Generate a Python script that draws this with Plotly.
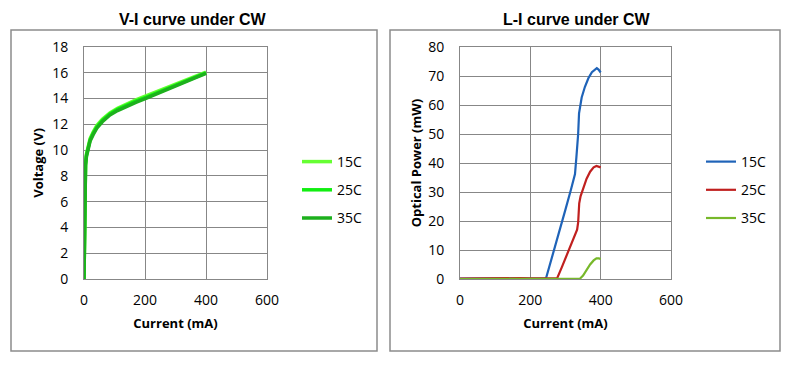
import plotly.graph_objects as go

# ---------------- data ----------------
vi_current = [0, 1, 2, 3, 5, 8, 12, 20, 30, 42, 60, 85, 110, 140, 170, 205, 240, 282, 320, 360, 400]
vi_15c = [0, 3.0, 6.5, 8.1, 9.0, 9.7, 10.2, 10.9, 11.4, 11.9, 12.4, 12.88, 13.25, 13.6, 13.9, 14.22, 14.54, 14.93, 15.29, 15.68, 16.05]
vi_25c = [0, 2.9, 6.4, 8.0, 8.9, 9.6, 10.1, 10.8, 11.3, 11.8, 12.3, 12.8, 13.16, 13.5, 13.8, 14.12, 14.45, 14.85, 15.22, 15.62, 16.0]
vi_35c = [0, 2.8, 6.3, 7.9, 8.8, 9.5, 10.0, 10.7, 11.2, 11.7, 12.2, 12.72, 13.07, 13.41, 13.71, 14.03, 14.36, 14.77, 15.15, 15.56, 15.96]

li_current_15c = [0, 50, 100, 150, 200, 240, 245, 260, 280, 300, 315, 327, 331, 334, 336, 338.5, 342, 346, 355, 365, 375, 383, 389, 394, 400]
li_15c = [0.1, 0.2, 0.2, 0.2, 0.1, 0.1, 0.4, 6.6, 15.3, 24.0, 30.6, 36.2, 42, 46, 50, 57.1, 59.8, 62.6, 66.2, 69.2, 71.3, 72.3, 72.7, 72.2, 71.2]
li_current_25c = [0, 50, 80, 100, 120, 150, 170, 200, 250, 276, 290, 305, 320, 333, 336, 339, 343, 351, 360, 370, 380, 388, 395, 400]
li_25c = [0.1, 0.2, 0.3, 0.4, 0.3, 0.4, 0.3, 0.2, 0.1, 0.2, 4.2, 8.8, 13.2, 17.0, 19.5, 26.1, 28.6, 31.8, 34.6, 37.0, 38.5, 39.0, 38.8, 38.5]
li_current_35c = [0, 100, 200, 300, 341, 350, 360, 370, 380, 388, 395, 400]
li_35c = [0, 0, 0, 0.1, 0.1, 1.2, 3.2, 5.0, 6.4, 7.1, 7.1, 6.9]

series_names = ["15C", "25C", "35C"]
vi_colors = ["#66FF33", "#11EE11", "#1DB01D"]
li_colors = ["#1F63B8", "#C0201F", "#77B82A"]

x_ticks = [0, 200, 400, 600]

W, H = 800, 365
OFF = 8  # page body margin


def px(x):
    return (x - OFF) / W


def py(y):
    return (H - (y - OFF)) / H


fig = go.Figure()

for name, ys, col in zip(series_names, [vi_15c, vi_25c, vi_35c], vi_colors):
    fig.add_trace(go.Scatter(x=vi_current, y=ys, mode="lines", name=name,
                             line=dict(color=col, width=3.5), xaxis="x", yaxis="y",
                             legend="legend", legendgroup="vi" + name))

for name, xs, ys, col in zip(series_names,
                             [li_current_15c, li_current_25c, li_current_35c],
                             [li_15c, li_25c, li_35c], li_colors):
    fig.add_trace(go.Scatter(x=xs, y=ys, mode="lines", name=name,
                             line=dict(color=col, width=2.2), xaxis="x2", yaxis="y2",
                             legend="legend2", legendgroup="li" + name))

grid = "#878787"
tick_font = dict(family="Open Sans, Noto Sans, sans-serif", size=14, color="#000")
title_font = dict(family="Open Sans, Noto Sans, sans-serif", size=13, color="#000")

common_x = dict(range=[0, 600], tickvals=x_ticks, showgrid=True, gridcolor=grid, gridwidth=1,
                showline=True, linecolor=grid, linewidth=1, mirror=True, zeroline=False,
                tickfont=tick_font, ticks="", ticklabelstandoff=8, automargin=False,
                fixedrange=True)
common_y = dict(showgrid=True, gridcolor=grid, gridwidth=1, showline=True, linecolor=grid,
                linewidth=1, mirror=True, zeroline=False, tickfont=tick_font, ticks="",
                ticklabelstandoff=12, automargin=False, fixedrange=True)

fig.update_layout(
    width=W, height=H,
    margin=dict(l=0, r=0, t=0, b=0),
    paper_bgcolor="white", plot_bgcolor="white",
    xaxis=dict(domain=[px(84), px(267)], anchor="y",
               title=dict(text="<b>Current (mA)</b>", font=title_font, standoff=11), **common_x),
    yaxis=dict(domain=[py(279), py(47)], anchor="x", range=[0, 18], dtick=2,
               title=dict(text="<b>Voltage (V)</b>", font=title_font, standoff=5), **common_y),
    xaxis2=dict(domain=[px(460), px(671)], anchor="y2",
                title=dict(text="<b>Current (mA)</b>", font=title_font, standoff=11), **common_x),
    yaxis2=dict(domain=[py(279), py(47)], anchor="x2", range=[0, 80], dtick=10,
                title=dict(text="<b>Optical Power (mW)</b>", font=title_font, standoff=3), **common_y),
    legend=dict(x=px(297), y=py(146), xanchor="left", yanchor="top",
                font=dict(family="Open Sans, Noto Sans, sans-serif", size=14, color="#000"),
                bgcolor="rgba(0,0,0,0)", tracegroupgap=7, itemclick=False),
    legend2=dict(x=px(701), y=py(146), xanchor="left", yanchor="top",
                 font=dict(family="Open Sans, Noto Sans, sans-serif", size=14, color="#000"),
                 bgcolor="rgba(0,0,0,0)", tracegroupgap=7, itemclick=False),
    showlegend=True,
    shapes=[
        dict(type="rect", xref="paper", yref="paper", x0=px(11), x1=px(377), y0=py(351), y1=py(30),
             line=dict(color="#8C8C8C", width=1.5), layer="below"),
        dict(type="rect", xref="paper", yref="paper", x0=px(390), x1=px(780), y0=py(351), y1=py(30),
             line=dict(color="#8C8C8C", width=1.5), layer="below"),
    ],
    annotations=[
        dict(text="<b>V-I curve under CW</b>", x=px(193), y=py(20), xref="paper", yref="paper",
             showarrow=False, xanchor="center", yanchor="middle",
             font=dict(family="Liberation Sans Narrow, Arial Narrow, Liberation Sans, sans-serif", size=16, color="#000")),
        dict(text="<b>L-I curve under CW</b>", x=px(577), y=py(20), xref="paper", yref="paper",
             showarrow=False, xanchor="center", yanchor="middle",
             font=dict(family="Liberation Sans Narrow, Arial Narrow, Liberation Sans, sans-serif", size=16, color="#000")),
    ],
)

fig.write_html("out.html")
